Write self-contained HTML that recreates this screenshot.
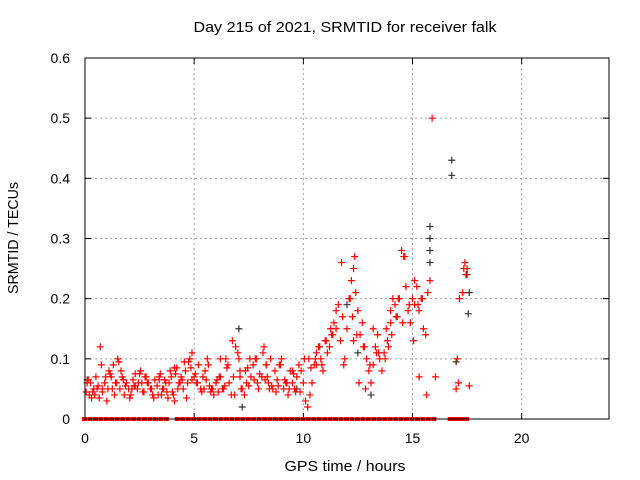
<!DOCTYPE html>
<html><head><meta charset="utf-8"><style>
body{margin:0;background:#fff;}
svg{display:block;font-family:"Liberation Sans",sans-serif;}
</style></head><body>
<svg id="chart" width="640" height="480" viewBox="0 0 640 480"></svg>
<script>
const xTicks=[0,5,10,15,20];
const yTicks=[0,0.1,0.2,0.3,0.4,0.5,0.6];
const yTickLabels=["0","0.1","0.2","0.3","0.4","0.5","0.6"];
const redT=[0.1,0.2,0.3,0.4,0.5,0.6,0.7,0.8,0.9,1.0,1.1,1.2,1.3,1.4,1.5,1.6,1.7,1.8,1.9,2.0,2.1,2.2,2.3,2.4,2.5,2.6,2.7,2.8,2.9,3.0,3.1,3.2,3.3,3.4,3.5,3.6,3.7,3.8,3.9,4.0,4.1,4.2,4.3,4.4,4.5,4.6,4.7,4.8,4.9,5.0,5.1,5.2,5.3,5.4,5.5,5.6,5.7,5.8,5.9,6.0,6.1,6.2,6.3,6.4,6.5,6.6,6.7,6.8,6.9,7.0,7.1,7.2,7.3,7.4,7.5,7.6,7.7,7.8,7.9,8.0,8.1,8.2,8.3,8.4,8.5,8.6,8.7,8.8,8.9,9.0,9.1,9.2,9.3,9.4,9.5,9.6,9.7,9.8,9.9,10.0,10.1,10.2,10.3,10.4,10.5,10.6,10.7,10.8,10.9,11.0,11.1,11.2,11.3,11.4,11.5,11.6,11.7,11.8,11.9,12.0,12.1,12.2,12.3,12.35,12.4,12.5,12.6,12.7,12.8,12.9,13.0,13.1,13.2,13.3,13.4,13.5,13.6,13.7,13.8,13.9,14.0,14.1,14.2,14.3,14.4,14.5,14.6,14.7,14.8,14.9,15.0,15.1,15.2,15.3,15.4,15.5,15.6,15.7,15.8,15.9,16.05,17.0,17.05,17.1,17.15,17.3,17.35,17.4,17.45,17.5,17.6,
0.15,0.35,0.55,0.75,0.95,1.25,1.45,1.65,1.85,2.15,2.45,2.75,3.05,3.35,3.65,3.95,4.15,4.35,4.55,4.85,5.15,5.45,5.75,6.05,6.35,6.75,7.05,7.15,7.45,7.85,8.25,8.45,8.85,9.25,9.65,10.25,10.75,11.25,11.75,12.15,12.25,12.45,12.75,13.05,13.35,13.75,14.05,14.35,14.65,14.55,15.05,15.25,15.45,15.65,0.8,2.3,3.4,4.1,4.9,6.2,7.1,8.3,9.5,10.6,11.5,12.3,13.2,14.0,15.1,15.3,
0.05,0.25,0.45,0.65,1.05,1.15,1.35,1.55,1.75,2.05,2.25,2.55,2.65,2.85,3.15,3.45,3.55,3.75,3.85,4.05,4.25,4.45,4.65,4.75,5.05,5.35,5.55,5.65,5.85,6.15,6.45,6.55,6.85,7.35,7.55,7.75,7.95,8.15,8.35,8.55,8.75,8.95,9.15,9.35,9.55,9.85,10.05,10.35,10.55,10.85,11.05,11.35,11.85,12.55,12.85,13.45,13.85,14.25,14.85,15.55];
const redV=[0.06,0.04,0.035,0.05,0.07,0.055,0.12,0.045,0.06,0.03,0.08,0.07,0.09,0.06,0.1,0.05,0.07,0.04,0.06,0.05,0.04,0.065,0.055,0.05,0.075,0.06,0.045,0.07,0.06,0.05,0.04,0.065,0.055,0.07,0.04,0.05,0.06,0.035,0.08,0.045,0.03,0.085,0.06,0.07,0.05,0.08,0.06,0.1,0.11,0.07,0.06,0.09,0.05,0.07,0.08,0.1,0.055,0.05,0.04,0.06,0.045,0.07,0.05,0.055,0.085,0.06,0.04,0.07,0.12,0.11,0.08,0.05,0.04,0.06,0.055,0.07,0.09,0.1,0.06,0.075,0.07,0.12,0.09,0.06,0.1,0.05,0.08,0.065,0.09,0.1,0.05,0.06,0.04,0.08,0.06,0.05,0.07,0.09,0.08,0.06,0.03,0.02,0.04,0.06,0.09,0.11,0.12,0.1,0.08,0.13,0.11,0.12,0.14,0.16,0.15,0.19,0.13,0.17,0.1,0.15,0.2,0.23,0.25,0.27,0.21,0.18,0.14,0.16,0.12,0.1,0.08,0.06,0.09,0.12,0.14,0.1,0.08,0.11,0.15,0.12,0.18,0.2,0.19,0.17,0.2,0.28,0.27,0.22,0.18,0.16,0.2,0.23,0.22,0.18,0.2,0.15,0.14,0.21,0.23,0.5,0.07,0.05,0.1,0.06,0.2,0.21,0.25,0.26,0.24,0.25,
0.055,0.065,0.045,0.05,0.09,0.07,0.05,0.06,0.08,0.055,0.05,0.06,0.07,0.05,0.04,0.065,0.07,0.075,0.06,0.095,0.085,0.06,0.05,0.045,0.065,0.05,0.13,0.1,0.05,0.085,0.1,0.065,0.05,0.055,0.06,0.045,0.1,0.12,0.15,0.26,0.2,0.17,0.14,0.12,0.09,0.11,0.1,0.14,0.2,0.27,0.16,0.13,0.19,0.2,0.04,0.05,0.075,0.065,0.085,0.065,0.1,0.07,0.09,0.08,0.09,0.18,0.13,0.15,0.16,0.19,
0.07,0.045,0.06,0.04,0.035,0.05,0.075,0.04,0.095,0.065,0.035,0.055,0.08,0.045,0.06,0.035,0.075,0.05,0.045,0.06,0.04,0.05,0.065,0.035,0.095,0.075,0.045,0.065,0.09,0.05,0.07,0.1,0.09,0.04,0.08,0.1,0.065,0.05,0.11,0.07,0.055,0.045,0.09,0.065,0.05,0.075,0.045,0.1,0.085,0.1,0.09,0.13,0.14,0.09,0.06,0.05,0.11,0.13,0.17,0.19];
const blackT=[0.1,7.05,7.2,9.7,12.0,12.5,13.1,15.8,15.8,15.8,15.8,16.8,16.8,17.0,17.5,17.55,17.6];
const blackV=[0.065,0.15,0.02,0.05,0.19,0.11,0.04,0.32,0.3,0.28,0.26,0.43,0.405,0.095,0.24,0.175,0.21];
const zeroT=[0,0.25,0.5,0.75,1,1.25,1.5,1.75,2,2.25,2.5,2.75,3,3.25,3.5,3.75,4.25,4.5,4.75,5,5.25,5.5,5.75,6,6.25,6.5,6.75,7,7.25,7.5,7.75,8,8.25,8.5,8.75,9,9.25,9.5,9.75,10,10.25,10.5,10.75,11,11.25,11.5,11.75,12,12.25,12.5,12.75,13,13.25,13.5,13.75,14,14.25,14.5,14.75,15,15.25,15.5,15.75,16,16.75,16.9,17.05,17.2,17.35,17.5];

const NS="http://www.w3.org/2000/svg";
const svg=document.getElementById('chart');
const L=85,R=609,T=58,B=419;
const xs=t=>L+(t/24)*(R-L);
const ys=v=>B-(v/0.6)*(B-T);
function mk(tag,at){const e=document.createElementNS(NS,tag);for(const k in at)e.setAttribute(k,at[k]);svg.appendChild(e);return e;}
xTicks.forEach(t=>{if(t>0){const g=mk('line',{x1:xs(t),x2:xs(t),y1:T,y2:B,stroke:'#a0a0a0','stroke-dasharray':'2,3'});

}});
yTicks.forEach(v=>{if(v>0&&v<0.6){const g=mk('line',{x1:L,x2:R,y1:ys(v),y2:ys(v),stroke:'#a0a0a0','stroke-dasharray':'2,3'});

}});
xTicks.forEach(t=>{mk('line',{x1:xs(t),x2:xs(t),y1:B,y2:B-6,stroke:'#000'});mk('line',{x1:xs(t),x2:xs(t),y1:T,y2:T+6,stroke:'#000'});
const tx=mk('text',{x:xs(t),y:443,'text-anchor':'middle','font-size':14});tx.textContent=t;

});
yTicks.forEach((v,i)=>{mk('line',{x1:L,x2:L+6,y1:ys(v),y2:ys(v),stroke:'#000'});mk('line',{x1:R,x2:R-6,y1:ys(v),y2:ys(v),stroke:'#000'});
const tx=mk('text',{x:70,y:ys(v)+5,'text-anchor':'end','font-size':14});tx.textContent=yTickLabels[i];

});
function plus(t,v,c,name){const p=mk('path',{d:`M${xs(t)-3.5},${ys(v)}h7M${xs(t)},${ys(v)-3.5}v7`,stroke:c,'stroke-width':1.2,fill:'none'});

}
blackT.forEach((t,i)=>plus(t,blackV[i],'#333','black-point'));
redT.forEach((t,i)=>plus(t,redV[i],'#f00','red-point'));
zeroT.forEach(t=>{const r=mk('rect',{x:xs(t)-3,y:B-2,width:5,height:4,fill:'#f00'});

});
const f=mk('rect',{x:L,y:T,width:R-L,height:B-T,fill:'none',stroke:'#000'});


</script>
<script>
const s=document.getElementById('chart');
function tx(x,y,str,len,extra){const e=document.createElementNS("http://www.w3.org/2000/svg",'text');e.setAttribute('x',x);e.setAttribute('y',y);e.setAttribute('font-size',15);e.setAttribute('text-anchor','middle');e.setAttribute('textLength',len);e.setAttribute('lengthAdjust','spacingAndGlyphs');if(extra)e.setAttribute('transform',extra);e.textContent=str;s.appendChild(e);return e;}
const t1=tx(345,32,'Day 215 of 2021, SRMTID for receiver falk',303);


const t2=tx(345,471,'GPS time / hours',121);


const t3=tx(18,238,'SRMTID / TECUs',112,'rotate(-90 18 238)');


</script>
</body></html>
